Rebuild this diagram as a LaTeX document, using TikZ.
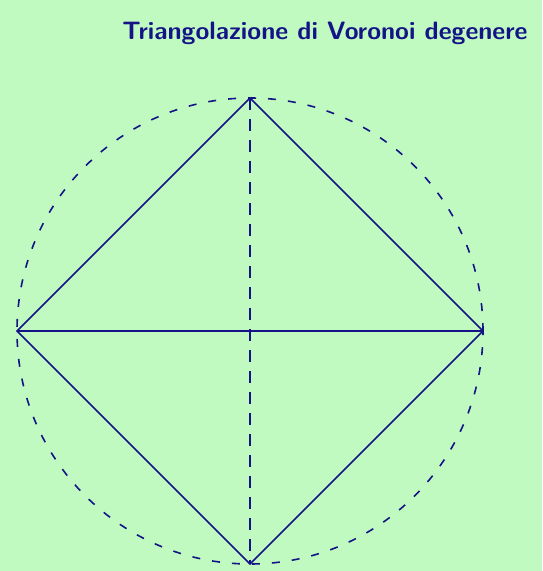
\documentclass[tikz,border=0pt]{standalone}
\usepackage{tikz}
\usetikzlibrary{positioning}

\definecolor{bgreen}{RGB}{192,250,192}
\definecolor{navy}{RGB}{20,20,135}

\begin{document}
\begin{tikzpicture}[
  x=1pt,y=1pt,
  edge/.style={navy,line width=1.6pt},
  dashedge/.style={edge,dash pattern=on 8pt off 12pt},
  ttl/.style={text=navy,font=\bfseries\sffamily,inner sep=0pt},
]
% ---------- frame ----------
\fill[bgreen] (0,0) rectangle (542,571);
\useasboundingbox (0,0) rectangle (542,571);

% ---------- points ----------
\coordinate (c) at (250,240);
\coordinate (top) at (250,473);
\coordinate (bot) at (250,7);
\coordinate (lft) at (17,240);
\coordinate (rgt) at (483,240);

% ---------- circle and edges ----------
\draw[dashedge] (c) circle (233);
\draw[edge] (lft) -- (top) -- (rgt) -- (bot) -- cycle;
\draw[edge] (lft) -- (rgt);
\draw[dashedge,dash pattern=on 12pt off 9pt] (top) -- (bot);

\node[ttl] (title) at (325,538)
  {\resizebox{405pt}{!}{Triangolazione di Voronoi degenere}};
\end{tikzpicture}
\end{document}
